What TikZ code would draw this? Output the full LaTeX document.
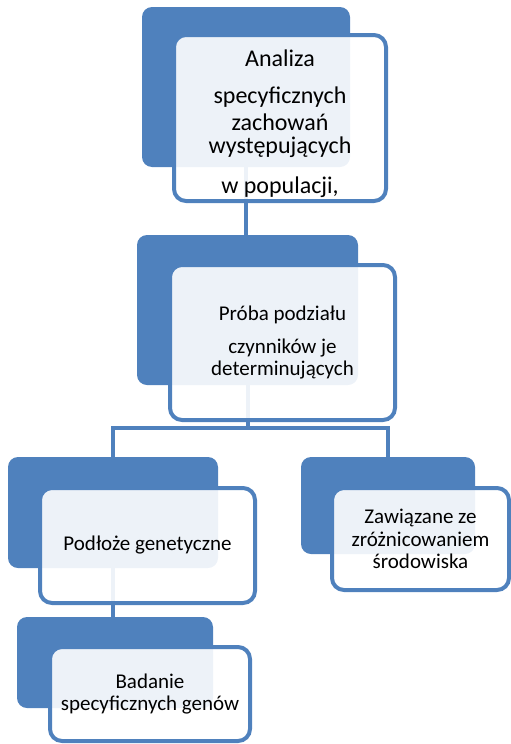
\documentclass[tikz,border=0pt]{standalone}
\usepackage{fontspec}
\setmainfont{Carlito}
\usetikzlibrary{backgrounds}

\definecolor{accent}{RGB}{79,129,189}
\tikzset{
	backbox/.style={fill=accent, draw=none, rounded corners=10pt, inner sep=0pt},
	frontbox/.style={draw=accent, line width=4pt, fill=white, fill opacity=0.9, text opacity=1, rounded corners=12pt, align=center, inner sep=0pt},
	link/.style={draw=accent, line width=4pt},
	bigtext/.style={font=\fontsize{24}{24}\selectfont},
	midtext/.style={font=\fontsize{21}{22.5}\selectfont}}

\begin{document}
\begin{tikzpicture}[x=1pt,y=1pt,yscale=-1]
	\useasboundingbox (0,0) rectangle (511,744);
	
	% back boxes
	\node [backbox, minimum width=208, minimum height=160] (b1) at (246,87) {};
	\node [backbox, minimum width=221, minimum height=150] (b2) at (247.5,310) {};
	\node [backbox, minimum width=210, minimum height=111] (b3) at (113,512.5) {};
	\node [backbox, minimum width=174, minimum height=97] (b4) at (388,505.5) {};
	\node [backbox, minimum width=196, minimum height=91] (b5) at (115,662.5) {};
	
	% front boxes
	\node [frontbox, minimum width=212, minimum height=166] (f1) at (280,118) {};
	\node [bigtext, align=center, inner sep=0pt] (t1) at ([yshift=6pt]f1.center) {Analiza\\[13pt] specyficznych\\[3pt] zachowań\\[-1pt] występujących\\[16pt] w populacji,};
	\node [frontbox, midtext, minimum width=225, minimum height=155] (f2) at (282.5,342.5) {Próba podziału\\[10.5pt] czynników je\\ determinujących};
	\node [frontbox, midtext, minimum width=215, minimum height=115] (f3) at (147.5,545.5) {Podłoże genetyczne};
	\node [frontbox, midtext, minimum width=177, minimum height=102] (f4) at (420.5,539) {Zawiązane ze\\ zróżnicowaniem\\ środowiska};
	\node [frontbox, midtext, minimum width=200, minimum height=94] (f5) at (150,694) {Badanie\\ specyficznych genów};
	
	% connectors
	\begin{scope}[on background layer]
		\draw [link] (b1.south) -- (b1.south |- b2.north);
		\draw [link] (b2.south) -- ++(0,43) -| (b3.north);
		\draw [link] (b2.south) -- ++(0,43) -| (b4.north);
		\draw [link] (b3.south) -- (b3.south |- b5.north);
	\end{scope}
	
\end{tikzpicture}
\end{document}
